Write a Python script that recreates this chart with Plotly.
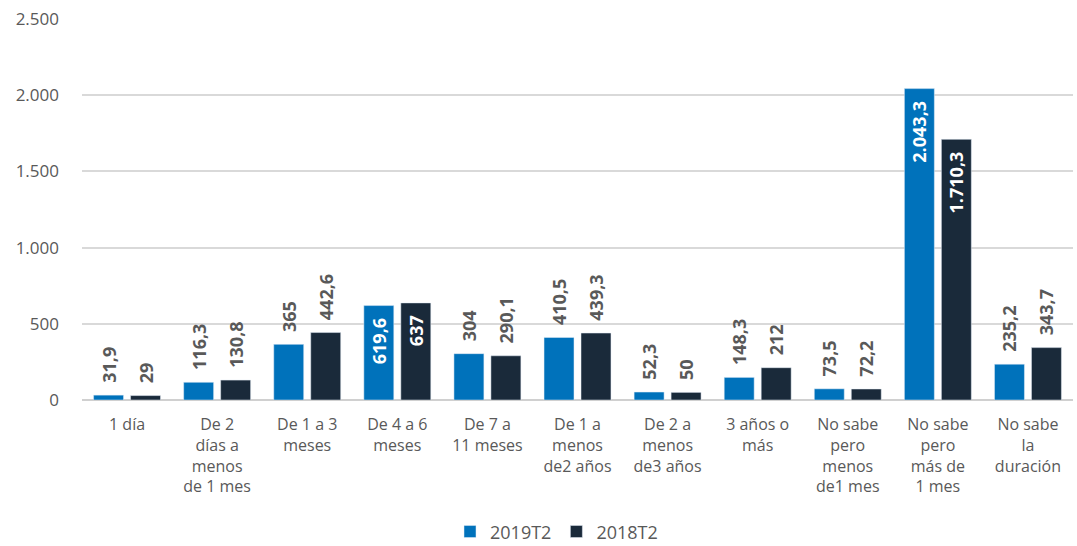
import plotly.graph_objects as go

categories = ["1 día", "De 2<br>días a<br>menos<br>de 1 mes", "De 1 a 3<br>meses", "De 4 a 6<br>meses",
              "De 7 a<br>11 meses", "De 1 a<br>menos<br>de2 años", "De 2 a<br>menos<br>de3 años",
              "3 años o<br>más", "No sabe<br>pero<br>menos<br>de1 mes", "No sabe<br>pero<br>más de<br>1 mes",
              "No sabe<br>la<br>duración"]
s2019 = [31.9, 116.3, 365, 619.6, 304, 410.5, 52.3, 148.3, 73.5, 2043.3, 235.2]
s2018 = [29, 130.8, 442.6, 637, 290.1, 439.3, 50, 212, 72.2, 1710.3, 343.7]
labels2019 = ["31,9", "116,3", "365", "619,6", "304", "410,5", "52,3", "148,3", "73,5", "2.043,3", "235,2"]
labels2018 = ["29", "130,8", "442,6", "637", "290,1", "439,3", "50", "212", "72,2", "1.710,3", "343,7"]
yticks = [0, 500, 1000, 1500, 2000, 2500]
yticklabels = ["0", "500", "1.000", "1.500", "2.000", "2.500"]

inside_threshold = 600
FONT = "Open Sans"
GRAY = "#595959"
NB = "\u00a0"


def positions(vals):
    return ["inside" if v >= inside_threshold else "outside" for v in vals]


def padded(vals, labs):
    out = []
    for v, l in zip(vals, labs):
        if v >= inside_threshold:
            out.append(l + NB + NB)
        else:
            out.append(NB + NB + l)
    return out


fig = go.Figure()
for name, vals, labs, color in [("2019T2", s2019, labels2019, "#0072bb"),
                                ("2018T2", s2018, labels2018, "#1a2a3a")]:
    fig.add_trace(go.Bar(
        x=categories, y=vals, name=name, marker_color=color,
        text=padded(vals, labs), textposition=positions(vals), textangle=-90,
        insidetextanchor="end", cliponaxis=False,
        outsidetextfont=dict(family=FONT, size=18, color=GRAY, weight="bold"),
        insidetextfont=dict(family=FONT, size=18, color="#ffffff", weight="bold"),
    ))

fig.update_layout(
    width=1077, height=546,
    margin=dict(l=82, r=4, t=19, b=146, autoexpand=False),
    paper_bgcolor="white", plot_bgcolor="white",
    barmode="group", bargap=0.179, bargroupgap=0.19,
    font=dict(family=FONT, size=16, color=GRAY),
    uniformtext=dict(minsize=18, mode="show"),
    legend=dict(orientation="h", x=(450 - 82) / 991, xanchor="left", y=-0.346, yanchor="middle",
                font=dict(family=FONT, size=18, color=GRAY), traceorder="normal",
                itemwidth=30),
    showlegend=True,
)
fig.update_xaxes(showline=False, ticks="", tickangle=0, ticklabelstandoff=13,
                 tickfont=dict(family=FONT, size=16, color=GRAY))
fig.update_yaxes(range=[0, 2500], tickvals=yticks, ticktext=yticklabels,
                 showgrid=True, gridcolor="#d9d9d9", gridwidth=1.5,
                 zeroline=True, zerolinecolor="#d0d0d0", zerolinewidth=2,
                 ticks="", ticklabelstandoff=22,
                 tickfont=dict(family=FONT, size=17, color=GRAY))

fig.write_html("out.html", config={"displayModeBar": False},
               post_script="document.body.style.margin='0px';")
